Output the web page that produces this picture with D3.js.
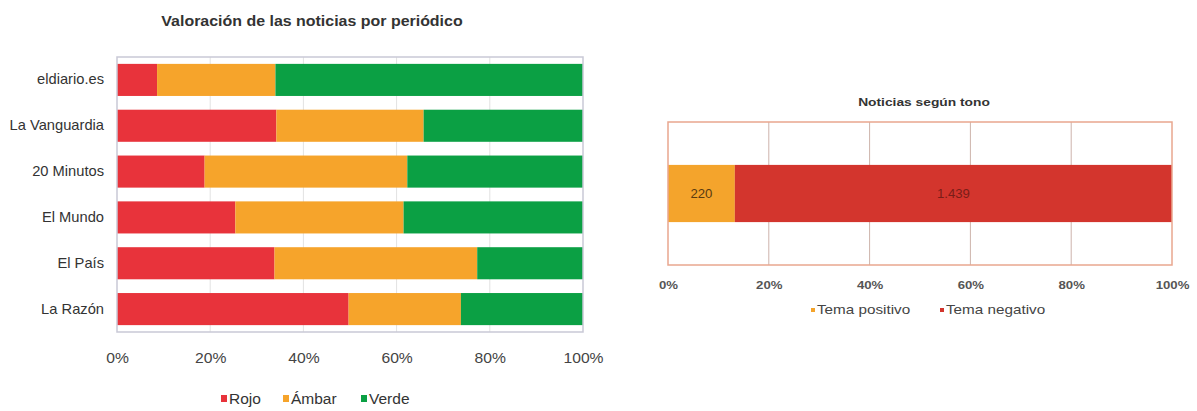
<!DOCTYPE html>
<html>
<head>
<meta charset="utf-8">
<script src="https://cdnjs.cloudflare.com/ajax/libs/d3/7.8.5/d3.min.js"></script>
<style>
  body { margin: 0; background: #fff; }
  svg text { font-family: "Liberation Sans", Arial, sans-serif; fill: #333; }
</style>
</head>
<body>
<svg id="chart" width="1197" height="411"></svg>
<script>
// periodicos (porcentaje de noticias)
var periodicos = ["eldiario.es", "La Vanguardia", "20 Minutos", "El Mundo", "El País", "La Razón"];
var rojo  = [8.6, 34.2, 18.8, 25.4, 33.8, 49.7];
var ambar = [25.4, 31.6, 43.5, 36.1, 43.5, 24.1];
var verde = [66.0, 34.2, 37.7, 38.5, 22.7, 26.2];
var seriesLeft = ["Rojo", "Ámbar", "Verde"];
var coloresLeft = ["#e8333b", "#f6a42b", "#0ba044"];

// noticias segun tono
var tonoSeries = ["Tema positivo", "Tema negativo"];
var tonoValores = [220, 1439];
var tonoEtiquetas = ["220", "1.439"];
var coloresTono = ["#f4a42c", "#d3352d"];

var ticksPct = [0, 20, 40, 60, 80, 100];

var svg = d3.select("#chart");

// stretch a text horizontally around its anchor point
function wide(sel, x, y, sx) {
  sel.attr("x", 0).attr("y", 0)
    .attr("transform", "translate(" + x + "," + y + ") scale(" + sx + ",1)");
  return sel;
}

// ---------- left chart ----------
var rows = periodicos.map(function(p, i) {
  return { name: p, Rojo: rojo[i], "Ámbar": ambar[i], Verde: verde[i] };
});

var x1 = d3.scaleLinear().domain([0, 100]).range([117, 583]);
var y1 = d3.scaleBand().domain(periodicos).range([57, 332]).paddingInner(0.3).paddingOuter(0.15);

var g1 = svg.append("g");

g1.append("text")
  .attr("text-anchor", "middle")
  .style("font-weight", "bold").style("font-size", "14px")
  .text("Valoración de las noticias por periódico")
  .call(wide, 312, 26, 1.14);

g1.selectAll("line.grid")
  .data(ticksPct.slice(1, 5))
  .enter().append("line")
  .attr("class", "grid")
  .attr("x1", function(d) { return x1(d); }).attr("x2", function(d) { return x1(d); })
  .attr("y1", 57).attr("y2", 332)
  .attr("stroke", "#e2e2e2");

var stack1 = d3.stack().keys(seriesLeft)(rows);

g1.selectAll("g.serie")
  .data(stack1)
  .enter().append("g")
  .attr("class", "serie")
  .attr("fill", function(d, i) { return coloresLeft[i]; })
  .selectAll("rect")
  .data(function(d) { return d; })
  .enter().append("rect")
  .attr("x", function(d) { return x1(d[0]); })
  .attr("width", function(d) { return x1(d[1]) - x1(d[0]); })
  .attr("y", function(d) { return y1(d.data.name); })
  .attr("height", y1.bandwidth());

g1.append("rect")
  .attr("x", 117).attr("y", 57).attr("width", 466).attr("height", 275)
  .attr("fill", "none").attr("stroke", "#c9c9d6").attr("stroke-width", 1.5);

var ay1 = g1.append("g")
  .attr("transform", "translate(104,0)")
  .call(d3.axisLeft(y1).tickSize(0).tickPadding(0));
ay1.select(".domain").remove();
ay1.selectAll("text")
  .attr("x", 0)
  .attr("text-anchor", "end")
  .style("font-size", "14px")
  .attr("transform", "scale(1.05,1)");

var ax1 = g1.append("g")
  .attr("transform", "translate(0,350)")
  .call(d3.axisBottom(x1).tickValues(ticksPct).tickSize(0).tickFormat(function(d) { return d + "%"; }));
ax1.select(".domain").remove();
ax1.selectAll("text")
  .style("font-size", "14px").style("fill", "#444")
  .attr("dy", "0.71em")
  .attr("transform", "scale(1.12,1)");

var leg1 = g1.append("g").attr("transform", "translate(221,398)");
var legX1 = [0, 62, 140];
seriesLeft.forEach(function(s, i) {
  leg1.append("rect")
    .attr("x", legX1[i]).attr("y", -3).attr("width", 6).attr("height", 7)
    .attr("fill", coloresLeft[i]);
  leg1.append("text")
    .attr("x", legX1[i] + 8).attr("y", 1).attr("dy", "0.35em")
    .style("font-size", "15.5px")
    .text(s);
});

// ---------- right chart ----------
var tonoRow = {};
tonoSeries.forEach(function(s, i) { tonoRow[s] = tonoValores[i]; });
tonoRow.name = "tono";

var x2 = d3.scaleLinear().domain([0, 1]).range([668, 1172]);
var y2 = d3.scaleBand().domain(["tono"]).range([122, 265]).paddingOuter(0.75);

var g2 = svg.append("g");

g2.append("text")
  .attr("text-anchor", "middle")
  .style("font-weight", "bold").style("font-size", "11.5px")
  .text("Noticias según tono")
  .call(wide, 924, 106, 1.2);

g2.selectAll("line.grid")
  .data([0.2, 0.4, 0.6, 0.8])
  .enter().append("line")
  .attr("class", "grid")
  .attr("x1", function(d) { return x2(d); }).attr("x2", function(d) { return x2(d); })
  .attr("y1", 122).attr("y2", 265)
  .attr("stroke", "#cdb3ab");

var stack2 = d3.stack().keys(tonoSeries).offset(d3.stackOffsetExpand)([tonoRow]);

g2.selectAll("rect.tono")
  .data(stack2)
  .enter().append("rect")
  .attr("class", "tono")
  .attr("fill", function(d, i) { return coloresTono[i]; })
  .attr("x", function(d) { return x2(d[0][0]); })
  .attr("width", function(d) { return x2(d[0][1]) - x2(d[0][0]); })
  .attr("y", y2("tono"))
  .attr("height", y2.bandwidth());

g2.selectAll("text.val")
  .data(stack2)
  .enter().append("text")
  .attr("class", "val")
  .attr("text-anchor", "middle")
  .attr("dy", "0.35em")
  .style("font-size", "12px")
  .style("fill", function(d, i) { return i === 0 ? "#5a3b10" : "#7a1d18"; })
  .text(function(d, i) { return tonoEtiquetas[i]; })
  .each(function(d) {
    d3.select(this).call(wide, (x2(d[0][0]) + x2(d[0][1])) / 2, y2("tono") + y2.bandwidth() / 2, 1.1);
  });

g2.append("rect")
  .attr("x", 668).attr("y", 122).attr("width", 504).attr("height", 143)
  .attr("fill", "none").attr("stroke", "#e9a78f").attr("stroke-width", 1.5);

var ax2 = g2.append("g")
  .attr("transform", "translate(0,278)")
  .call(d3.axisBottom(x2).tickValues(ticksPct.map(function(d) { return d / 100; })).tickSize(0).tickFormat(d3.format(".0%")));
ax2.select(".domain").remove();
ax2.selectAll("text")
  .style("font-size", "11px").style("font-weight", "bold").style("fill", "#555")
  .attr("dy", "0.71em")
  .attr("transform", "scale(1.2,1)");

var leg2 = g2.append("g").attr("transform", "translate(811,310)");
var legX2 = [0, 129];
tonoSeries.forEach(function(s, i) {
  leg2.append("rect")
    .attr("x", legX2[i]).attr("y", -2).attr("width", 4).attr("height", 4)
    .attr("fill", coloresTono[i]);
  leg2.append("text")
    .attr("text-anchor", "start")
    .attr("dy", "0.35em")
    .style("font-size", "12.5px").style("fill", "#444")
    .text(s)
    .call(wide, legX2[i] + 6, 0, 1.22);
});
</script>
</body>
</html>
